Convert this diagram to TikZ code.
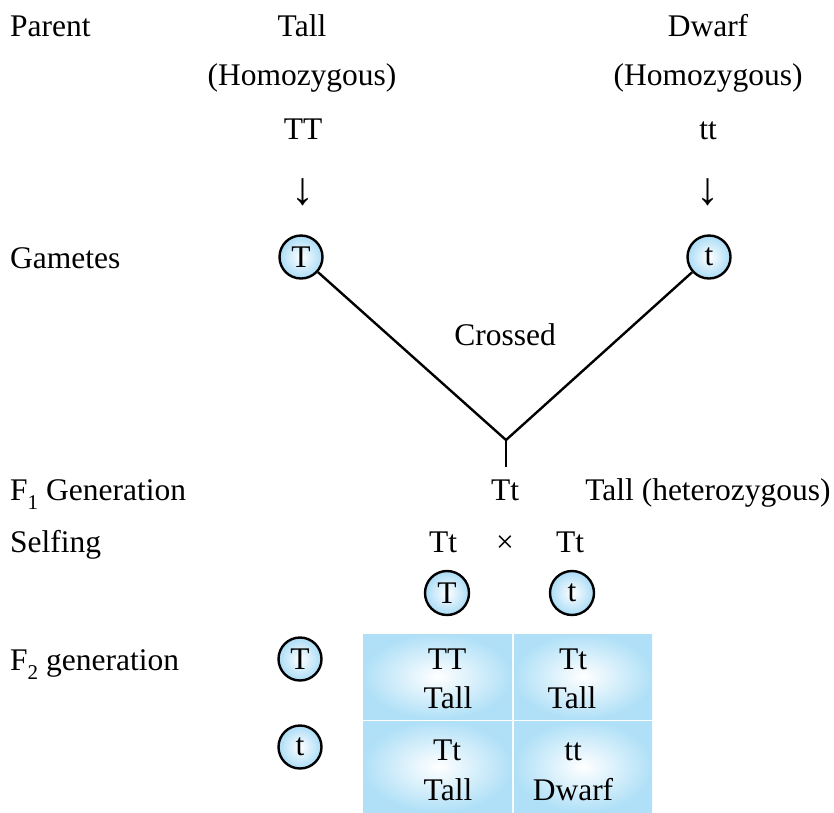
\documentclass[tikz,border=0pt]{standalone}
\usepackage{fontspec}
\setmainfont{Liberation Serif}
\definecolor{cblue}{RGB}{170,220,246}
\definecolor{gblue}{RGB}{176,224,247}
\begin{document}
\begin{tikzpicture}[x=1pt,y=-1pt,
  every node/.style={font=\fontsize{31.5}{37}\selectfont, inner sep=0pt},
  lbl/.style={anchor=base west},
  txt/.style={anchor=base},
  arrowglyph/.style={font=\fontsize{46}{50}\selectfont},
  gam/.style={circle, draw=black, line width=2.4pt, minimum size=43pt, inner color=white, outer color=cblue},
  cell/.style={rectangle, inner color=white, outer color=gblue, minimum width=149pt, minimum height=85pt},
  conn/.style={line width=2.4pt}]
\useasboundingbox (0,0) rectangle (834,812);
% left labels
\node[lbl] (parent) at (10,36) {Parent};
\node[lbl] (gametes) at (10,268) {Gametes};
\node[lbl] (f1) at (10,500) {F\raisebox{-9pt}{\fontsize{21}{24}\selectfont 1} Generation};
\node[lbl] (selfing) at (10,552) {Selfing};
\node[lbl] (f2) at (10,670) {F\raisebox{-9pt}{\fontsize{21}{24}\selectfont 2} generation};
% parents
\node[txt] (tall) at (302,36) {Tall};
\node[txt] (homL) at (302,85) {(Homozygous)};
\node[txt] (TT) at (303,139) {TT};
\node[arrowglyph] (arrL) at (303,192) {↓};
\node[txt] (dwarf) at (708,36) {Dwarf};
\node[txt] (homR) at (708,85) {(Homozygous)};
\node[txt] (tt) at (708,139) {tt};
\node[arrowglyph] (arrR) at (708,192) {↓};
% gametes
\node[gam] (gT) at (301,257) {T};
\node[gam] (gt) at (709,257) {t};
\node[txt] (crossed) at (505,345) {Crossed};
\coordinate (join) at (506,440);
\coordinate (stem) at (506,467);
\draw[conn] (gT) -- (join) -- (gt);
\draw[conn] (join) -- (stem);
% F1
\node[txt] (Tt) at (505,500) {Tt};
\node[txt] (het) at (708,500) {Tall (heterozygous)};
% selfing
\node[txt] (s1) at (443,552) {Tt};
\node[txt] (x) at (505,552) {×};
\node[txt] (s2) at (570,552) {Tt};
\node[gam, minimum size=44pt] (sT) at (447,593) {T};
\node[gam, minimum size=44pt] (st) at (572,593) {t};
% F2 grid
\node[cell] (c11) at (437.5,676.5) {};
\node[cell, minimum width=138pt] (c12) at (583,676.5) {};
\node[cell, minimum height=91pt] (c21) at (437.5,766.5) {};
\node[cell, minimum width=138pt, minimum height=91pt] (c22) at (583,766.5) {};
\node[gam] (fT) at (300,659) {T};
\node[gam] (ft) at (300,747) {t};
\node[txt] (a1) at (447,669) {TT};
\node[txt] (a2) at (448,708) {Tall};
\node[txt] (b1) at (573,669) {Tt};
\node[txt] (b2) at (572,708) {Tall};
\node[txt] (c1) at (447,760) {Tt};
\node[txt] (c2) at (448,800) {Tall};
\node[txt] (d1) at (573,760) {tt};
\node[txt] (d2) at (573,800) {Dwarf};
\end{tikzpicture}
\end{document}
